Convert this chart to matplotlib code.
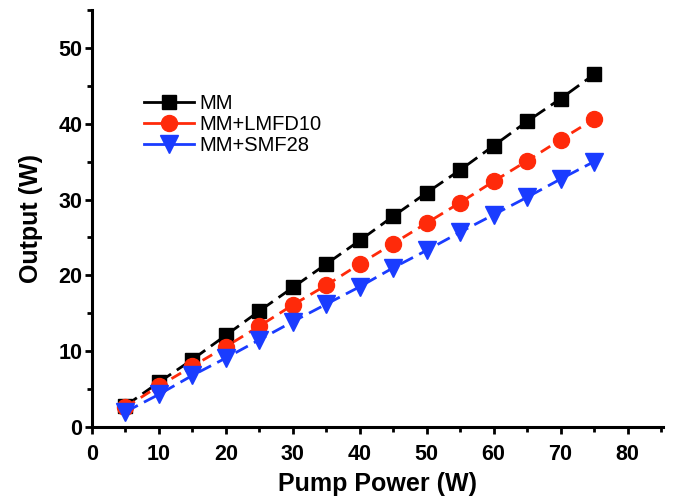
import matplotlib
matplotlib.use("Agg")
import matplotlib.pyplot as plt
from matplotlib.ticker import MultipleLocator
from matplotlib.lines import Line2D

plt.rcParams['font.family'] = ['Liberation Sans', 'DejaVu Sans']

pump = [5, 10, 15, 20, 25, 30, 35, 40, 45, 50, 55, 60, 65, 70, 75]
mm = [2.8, 5.9, 8.9, 12.1, 15.3, 18.4, 21.5, 24.6, 27.8, 30.9, 33.9, 37.1, 40.3, 43.3, 46.5]
mm_lmfd10 = [2.6, 5.4, 8.0, 10.6, 13.3, 16.1, 18.7, 21.5, 24.2, 26.9, 29.6, 32.4, 35.1, 37.9, 40.6]
mm_smf28 = [2.0, 4.3, 6.8, 9.1, 11.5, 13.9, 16.2, 18.5, 21.0, 23.3, 25.7, 28.0, 30.3, 32.7, 35.0]
labels = ['MM', 'MM+LMFD10', 'MM+SMF28']

colors = ['black', '#ff2a0a', '#1a3cff']
markers = ['s', 'o', 'v']
msizes = [10, 11.5, 13]
dashes = [(0, (5, 2.5)), (0, (4, 2.5)), (0, (5, 2.5))]

fig = plt.figure(figsize=(6.74, 4.99), dpi=100)
ax = fig.add_axes([0.1365, 0.1443, 0.8472, 0.8357])

for ys, c, m, ms, ls, lab in zip([mm, mm_lmfd10, mm_smf28], colors, markers, msizes, dashes, labels):
    ax.plot(pump, ys, color=c, linestyle=ls, linewidth=2, marker=m, markersize=ms, label=lab)

ax.set_xlim(0, 85.3)
ax.set_ylim(0, 55)
ax.xaxis.set_major_locator(MultipleLocator(10))
ax.xaxis.set_minor_locator(MultipleLocator(5))
ax.yaxis.set_major_locator(MultipleLocator(10))
ax.yaxis.set_minor_locator(MultipleLocator(5))

for s in ['top', 'right']:
    ax.spines[s].set_visible(False)
for s in ['left', 'bottom']:
    ax.spines[s].set_linewidth(2.2)

ax.tick_params(which='major', direction='out', length=5, width=2, labelsize=15.5)
ax.tick_params(which='minor', direction='out', length=3.5, width=2)
ax.tick_params(axis='x', which='major', pad=7)
ax.tick_params(axis='y', which='major', pad=2)
for lab in ax.get_xticklabels() + ax.get_yticklabels():
    lab.set_fontweight('bold')

ax.set_xlabel('Pump Power (W)', fontsize=18, fontweight='bold', labelpad=5)
ax.set_ylabel('Output (W)', fontsize=18, fontweight='bold', labelpad=11)

handles = [Line2D([], [], color=c, linestyle='-', linewidth=2, marker=m, markersize=ms)
           for c, m, ms in zip(colors, markers, msizes)]
leg = ax.legend(handles, labels, loc='upper left', bbox_to_anchor=(0.213, 0.812),
                bbox_transform=fig.transFigure,
                frameon=False, fontsize=14.5, handlelength=2.5, handletextpad=0.25,
                labelspacing=0.1, borderaxespad=0, borderpad=0)

fig.savefig('out.png', dpi=100)
